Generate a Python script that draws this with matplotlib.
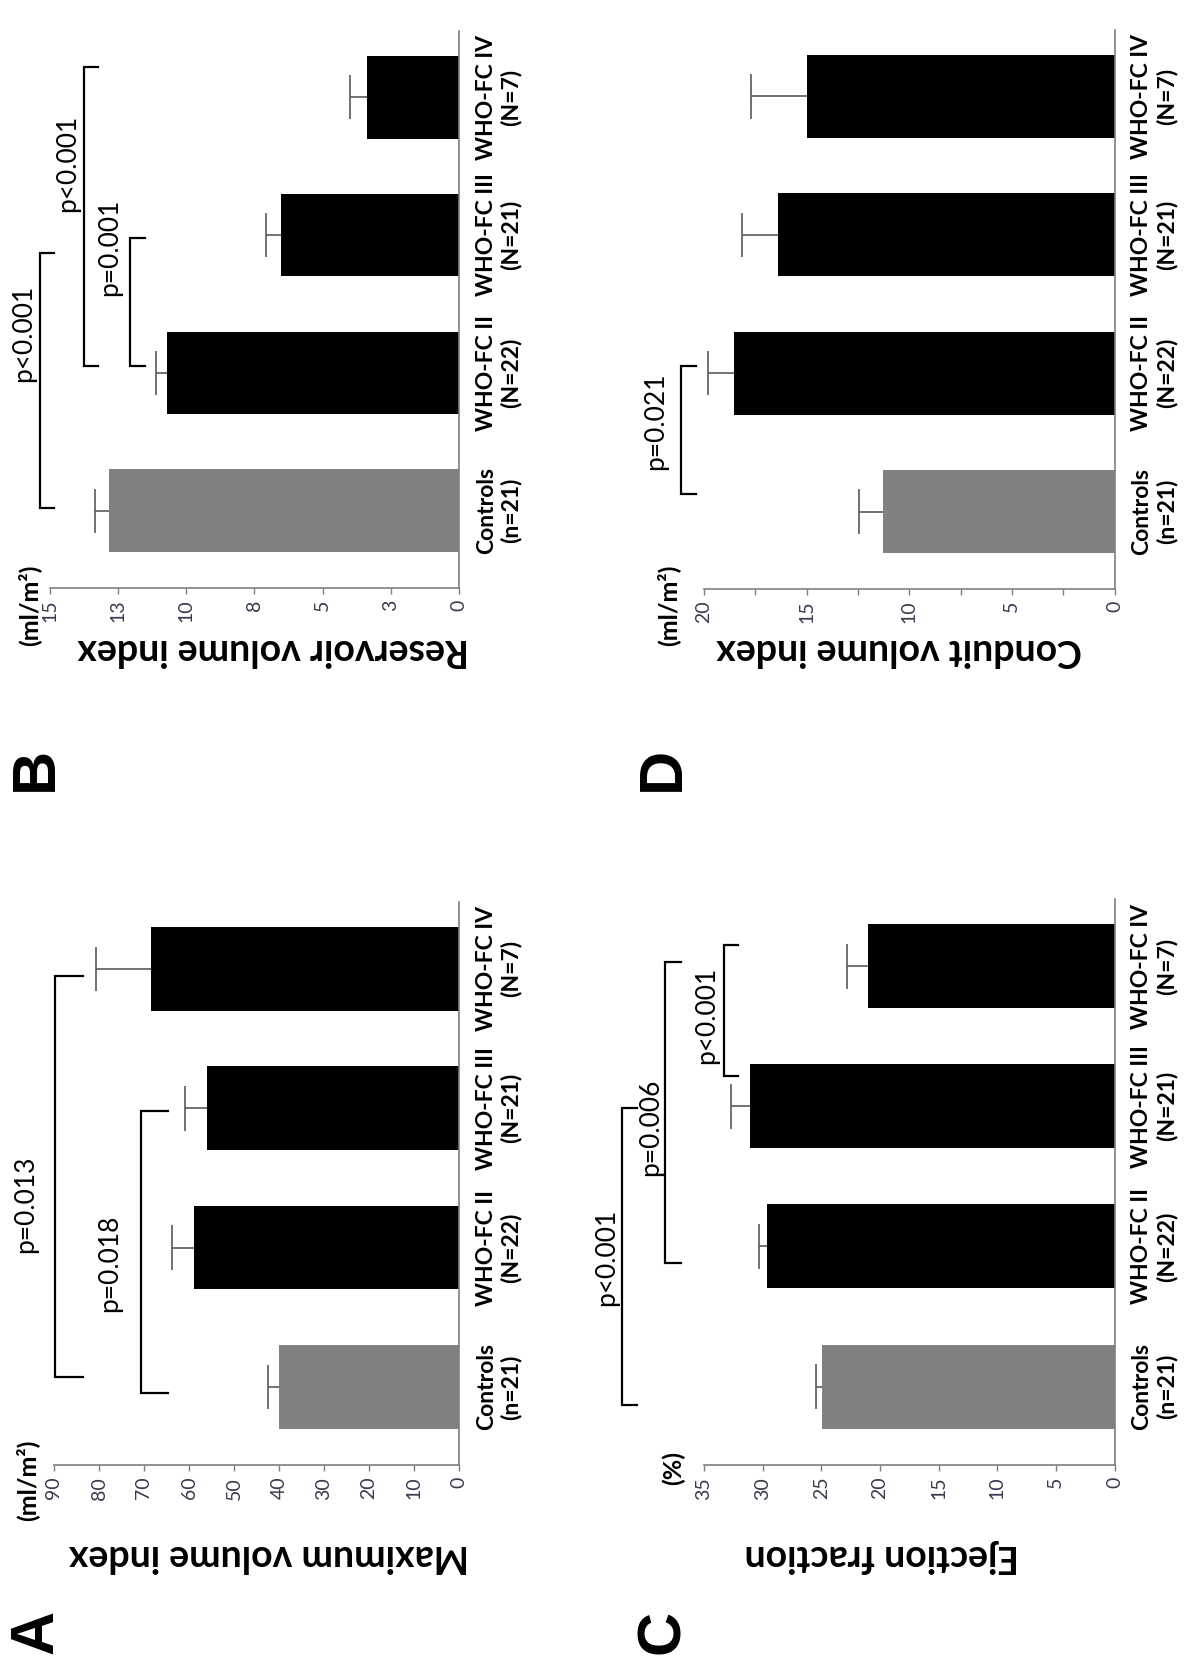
import matplotlib
matplotlib.use("Agg")
import matplotlib.pyplot as plt
import numpy as np

plt.rcParams["font.family"] = ["Lato", "DejaVu Sans"]

FIG_W, FIG_H = 1201, 1670

# 类别（从下到上）
categories = ["Controls\n(n=21)", "WHO-FC II\n(N=22)", "WHO-FC III\n(N=21)", "WHO-FC IV\n(N=7)"]
bar_colors = ["#808080", "black", "black", "black"]

# A: Maximum volume index
max_volume = [40.1, 58.8, 56.0, 68.5]
max_volume_err = [2.4, 5.0, 4.8, 12.2]
max_volume_ticks = [0, 10, 20, 30, 40, 50, 60, 70, 80, 90]
max_volume_labels = ["0", "10", "20", "30", "40", "50", "60", "70", "80", "90"]
# 括号: (下端, 上端, 竖线数值, 短线端数值)
max_volume_brackets = [(0.07, 2.95, 89.8, 83.6), (-0.04, 1.98, 70.7, 64.7)]
max_volume_pvals = ["p=0.013", "p=0.018"]
max_volume_pval_pos = [(93.6, 1.31), (74.9, 0.89)]

# B: Reservoir volume index
reservoir = [12.83, 10.72, 6.52, 3.39]
reservoir_err = [0.52, 0.41, 0.56, 0.61]
reservoir_ticks = [0, 2.5, 5, 7.5, 10, 12.5, 15]
reservoir_labels = ["0", "3", "5", "8", "10", "13", "15"]
reservoir_brackets = [(0.02, 1.87, 15.36, 14.87), (1.05, 3.22, 13.77, 13.25), (1.05, 1.98, 12.06, 11.5)]
reservoir_pvals = ["p<0.001", "p<0.001", "p=0.001"]
reservoir_pval_pos = [(15.5, 1.29), (13.9, 2.52), (12.36, 1.91)]

# C: Ejection fraction
ejection = [24.94, 29.59, 31.05, 21.05]
ejection_err = [0.5, 0.73, 1.63, 1.73]
ejection_ticks = [0, 5, 10, 15, 20, 25, 30, 35]
ejection_labels = ["0", "5", "10", "15", "20", "25", "30", "35"]
ejection_brackets = [(-0.13, 1.99, 41.96, 40.7), (0.88, 3.03, 38.3, 37.0), (2.22, 3.15, 33.3, 32.1)]
ejection_pvals = ["p<0.001", "p=0.006", "p<0.001"]
ejection_pval_pos = [(42.2, 0.92), (38.5, 1.85), (33.7, 2.65)]

# D: Conduit volume index
conduit = [11.27, 18.56, 16.39, 14.97]
conduit_err = [1.18, 1.23, 1.77, 2.75]
conduit_ticks = [0, 5, 10, 15, 20]
conduit_labels = ["0", "5", "10", "15", "20"]
conduit_minor = [2.5, 7.5, 12.5, 17.5]
conduit_brackets = [(0.13, 1.05, 21.1, 20.4)]
conduit_pvals = ["p=0.021"]
conduit_pval_pos = [(21.75, 0.65)]

AXIS_GRAY = "#7f7f7f"
TICK_TEXT = "#3a3a50"

fig = plt.figure(figsize=(FIG_W / 100, FIG_H / 100), dpi=100)


def fig_xy(x, y):
    """像素坐标转为 figure 比例坐标。"""
    return x / FIG_W, 1 - y / FIG_H


def draw_panel(rect_px, values, errors, xmax, ticks, tick_labels,
               brackets, pvals, pval_pos, minor_ticks=None):
    """画一个旋转 90 度的柱状图面板。"""
    left, right, top, bottom = rect_px
    ax = fig.add_axes([left / FIG_W, 1 - bottom / FIG_H,
                       (right - left) / FIG_W, (bottom - top) / FIG_H])

    pos = np.arange(len(categories))
    ax.barh(pos, values, height=0.6, color=bar_colors, zorder=2)

    # 单侧误差线
    ends = np.array(values) + np.array(errors)
    ax.hlines(pos, values, ends, color="#5a5a5a", lw=1.2, zorder=1)
    ax.vlines(ends, pos - 0.16, pos + 0.16, color="#5a5a5a", lw=1.2, zorder=1)

    ax.set_xlim(xmax, 0)
    ax.set_ylim(-0.56, 3.48)

    for side in ["top", "left"]:
        ax.spines[side].set_visible(False)
    for side in ["bottom", "right"]:
        ax.spines[side].set_color(AXIS_GRAY)
        ax.spines[side].set_linewidth(1.2)

    ax.set_xticks(ticks)
    ax.set_xticklabels(tick_labels, rotation=90, fontsize=14, color=TICK_TEXT)
    ax.tick_params(axis="x", direction="out", length=4.5, width=1.0,
                   color=AXIS_GRAY, pad=4)
    if minor_ticks is not None:
        ax.set_xticks(minor_ticks, minor=True)
        ax.tick_params(axis="x", which="minor", direction="out", length=4.5,
                       width=1.0, color=AXIS_GRAY)

    ax.yaxis.tick_right()
    ax.set_yticks(pos)
    ax.set_yticklabels(categories, rotation=90, va="center", ha="left",
                       multialignment="center", fontsize=16.5, fontweight="bold")
    ax.tick_params(axis="y", length=0, pad=12)

    # 显著性括号
    for (y0, y1, x_line, x_end), label, (tx, ty) in zip(brackets, pvals, pval_pos):
        ax.plot([x_end, x_line, x_line, x_end], [y0, y0, y1, y1],
                color="black", lw=1.6, clip_on=False, solid_joinstyle="miter")
        ax.text(tx, ty, label, rotation=90, ha="right", va="center",
                fontsize=19, clip_on=False)
    return ax


draw_panel((54, 459, 902, 1465), max_volume, max_volume_err, 90,
           max_volume_ticks, max_volume_labels,
           max_volume_brackets, max_volume_pvals, max_volume_pval_pos)
draw_panel((50, 459, 31, 588), reservoir, reservoir_err, 15,
           reservoir_ticks, reservoir_labels,
           reservoir_brackets, reservoir_pvals, reservoir_pval_pos)
draw_panel((704, 1114.5, 899, 1465), ejection, ejection_err, 35,
           ejection_ticks, ejection_labels,
           ejection_brackets, ejection_pvals, ejection_pval_pos)
draw_panel((704, 1114.5, 30, 589), conduit, conduit_err, 20,
           conduit_ticks, conduit_labels,
           conduit_brackets, conduit_pvals, conduit_pval_pos,
           minor_ticks=conduit_minor)

# 纵轴标题（倒置）
ylabel_texts = ["Maximum volume index", "Reservoir volume index",
                "Ejection fraction", "Conduit volume index"]
ylabel_xy = [(269, 1556), (273, 650), (882, 1556), (899, 650)]
for label, (x, y) in zip(ylabel_texts, ylabel_xy):
    fig.text(*fig_xy(x, y), label, rotation=180, ha="center", va="center",
             fontsize=27, fontweight="bold")

# 单位
unit_texts = ["(ml/m²)", "(ml/m²)", "(%)", "(ml/m²)"]
unit_xy = [(27, 1480), (29, 605), (673, 1468), (668, 605)]
for label, (x, y) in zip(unit_texts, unit_xy):
    fig.text(*fig_xy(x, y), label, rotation=90, ha="center", va="center",
             fontsize=18, fontweight="bold")

# 面板字母
letters = ["A", "B", "C", "D"]
letter_xy = [(37, 1632), (36, 769), (663, 1632), (663, 769)]
for label, (x, y) in zip(letters, letter_xy):
    fig.text(*fig_xy(x, y), label, rotation=90, ha="center", va="center",
             fontsize=44, fontweight="bold", family="Liberation Sans")

fig.savefig("out.png", dpi=100)
